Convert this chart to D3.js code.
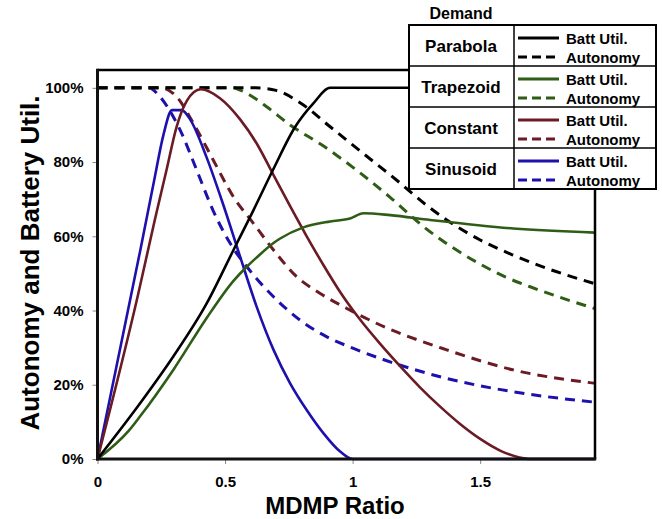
<!DOCTYPE html>
<html>
<head>
<meta charset="utf-8">
<script src="https://cdn.jsdelivr.net/npm/d3@7"></script>
<style>
  html, body { margin: 0; padding: 0; background: #fff; }
  svg { display: block; }
  text { font-family: "Liberation Sans", Arial, sans-serif; font-weight: bold; fill: #000; }
</style>
</head>
<body>
<svg id="chart" width="662" height="519"></svg>
<script>
// ---------- DATA ----------
const demandTypes = ["Parabola", "Trapezoid", "Constant", "Sinusoid"];
const seriesColors = ["#000000", "#2f5d16", "#6b1b24", "#1e10ad"];
const xTicks = [0, 0.5, 1, 1.5];
const xTickLabels = ["0", "0.5", "1", "1.5"];
const yTicks = [0, 0.2, 0.4, 0.6, 0.8, 1.0];
const yTickLabels = ["0%", "20%", "40%", "60%", "80%", "100%"];

// Parabola
const parabolaUtilX = [0, 0.167, 0.297, 0.428, 0.533, 0.611, 0.69, 0.775, 0.846, 0.912, 1.95];
const parabolaUtilY = [0, 0.15, 0.276, 0.419, 0.563, 0.67, 0.782, 0.895, 0.958, 1.0, 1.0];
const parabolaAutoX = [0, 0.62, 0.7, 0.794, 0.912, 1.042, 1.173, 1.291, 1.369, 1.5, 1.63, 1.76, 1.95];
const parabolaAutoY = [1, 1, 0.993, 0.96, 0.895, 0.823, 0.751, 0.683, 0.644, 0.59, 0.549, 0.514, 0.472];
// Trapezoid
const trapezoidUtilX = [0, 0.121, 0.167, 0.297, 0.428, 0.533, 0.585, 0.624, 0.69, 0.716, 0.807, 0.912, 0.99, 1.042, 1.147, 1.304, 1.63, 1.95];
const trapezoidUtilY = [0, 0.075, 0.115, 0.24, 0.38, 0.48, 0.518, 0.543, 0.582, 0.594, 0.624, 0.64, 0.648, 0.662, 0.657, 0.644, 0.621, 0.61];
const trapezoidAutoX = [0, 0.53, 0.559, 0.598, 0.663, 0.755, 0.886, 1.016, 1.147, 1.278, 1.5, 1.6, 1.696, 1.95];
const trapezoidAutoY = [1, 1, 0.994, 0.98, 0.949, 0.9, 0.843, 0.778, 0.705, 0.626, 0.525, 0.49, 0.464, 0.405];
// Constant
const constantUtilX = [0, 0.158, 0.225, 0.271, 0.31, 0.35, 0.405, 0.48, 0.559, 0.624, 0.69, 0.755, 0.82, 0.886, 0.951, 1.023, 1.108, 1.186, 1.264, 1.343, 1.42, 1.5, 1.58, 1.65, 1.7, 1.95];
const constantUtilY = [0, 0.44, 0.645, 0.78, 0.895, 0.965, 0.996, 0.972, 0.915, 0.85, 0.765, 0.681, 0.6, 0.522, 0.45, 0.381, 0.31, 0.25, 0.193, 0.141, 0.095, 0.054, 0.022, 0.005, 0, 0];
const constantAutoX = [0, 0.25, 0.31, 0.376, 0.454, 0.533, 0.611, 0.69, 0.781, 0.873, 0.99, 1.108, 1.369, 1.63, 1.95];
const constantAutoY = [1, 1, 0.976, 0.904, 0.805, 0.706, 0.635, 0.563, 0.491, 0.446, 0.401, 0.361, 0.294, 0.24, 0.204];
// Sinusoid
const sinusoidUtilX = [0, 0.167, 0.222, 0.258, 0.292, 0.33, 0.363, 0.428, 0.493, 0.559, 0.624, 0.69, 0.755, 0.82, 0.886, 0.951, 1.0, 1.95];
const sinusoidUtilY = [0, 0.56, 0.75, 0.872, 0.94, 0.94, 0.915, 0.812, 0.685, 0.545, 0.41, 0.294, 0.204, 0.132, 0.069, 0.02, 0, 0];
const sinusoidAutoX = [0, 0.2, 0.245, 0.297, 0.324, 0.389, 0.454, 0.52, 0.598, 0.69, 0.794, 0.899, 1.003, 1.12, 1.369, 1.63, 1.95];
const sinusoidAutoY = [1, 1, 0.976, 0.922, 0.886, 0.778, 0.668, 0.581, 0.507, 0.437, 0.374, 0.329, 0.298, 0.268, 0.217, 0.181, 0.153];

// ---------- BUILD ----------
const zip = (xs, ys) => xs.map((x, i) => ({ x, y: ys[i] }));
const series = [
  { name: "Sinusoid", color: seriesColors[3], util: zip(sinusoidUtilX, sinusoidUtilY), auto: zip(sinusoidAutoX, sinusoidAutoY) },
  { name: "Constant", color: seriesColors[2], util: zip(constantUtilX, constantUtilY), auto: zip(constantAutoX, constantAutoY) },
  { name: "Trapezoid", color: seriesColors[1], util: zip(trapezoidUtilX, trapezoidUtilY), auto: zip(trapezoidAutoX, trapezoidAutoY) },
  { name: "Parabola", color: seriesColors[0], util: zip(parabolaUtilX, parabolaUtilY), auto: zip(parabolaAutoX, parabolaAutoY) }
];

const svg = d3.select("#chart");
const pLeft = 97.5, pRight = 595, pTop = 70, pBottom = 459;
const x = d3.scaleLinear().domain([0, 1.95]).range([pLeft, pRight]);
const y = d3.scaleLinear().domain([0, 1.048]).range([pBottom, pTop]);

svg.append("clipPath").attr("id", "plotclip")
  .append("rect").attr("x", pLeft).attr("y", pTop - 2).attr("width", pRight - pLeft).attr("height", pBottom - pTop + 4);

// axes
const yAxis = d3.axisLeft(y).tickValues(yTicks).tickFormat((d, i) => yTickLabels[i]).tickSize(5).tickPadding(9);
const gy = svg.append("g").attr("transform", `translate(${pLeft},0)`).call(yAxis);
gy.select(".domain").remove();
gy.selectAll(".tick line").attr("stroke", "#888").attr("stroke-width", 1);
gy.selectAll(".tick text").style("font-size", "15px").style("font-family", "Liberation Sans, Arial, sans-serif").style("font-weight", "bold").attr("fill", "#000");

const xAxis = d3.axisBottom(x).tickValues(xTicks).tickFormat((d, i) => xTickLabels[i]).tickSize(5).tickPadding(12);
const gx = svg.append("g").attr("transform", `translate(0,${pBottom})`).call(xAxis);
gx.select(".domain").remove();
gx.selectAll(".tick line").attr("stroke", "#888").attr("stroke-width", 1);
gx.selectAll(".tick text").style("font-size", "15px").style("font-family", "Liberation Sans, Arial, sans-serif").style("font-weight", "bold").attr("fill", "#000");

// lines
const line = d3.line().x(d => x(d.x)).y(d => y(d.y)).curve(d3.curveMonotoneX);
const plot = svg.append("g").attr("clip-path", "url(#plotclip)");
series.forEach(s => {
  plot.append("path").datum(s.auto).attr("d", line)
    .attr("fill", "none").attr("stroke", s.color).attr("stroke-width", 3).attr("stroke-dasharray", "10,7");
});
series.forEach(s => {
  plot.append("path").datum(s.util).attr("d", line)
    .attr("fill", "none").attr("stroke", s.color).attr("stroke-width", 2.6);
});

// frame
svg.append("line").attr("x1", pLeft).attr("x2", pRight).attr("y1", pTop).attr("y2", pTop).attr("stroke", "#000").attr("stroke-width", 2.5);
svg.append("line").attr("x1", pRight).attr("x2", pRight).attr("y1", pTop).attr("y2", pBottom).attr("stroke", "#000").attr("stroke-width", 2.5);
svg.append("line").attr("x1", pLeft).attr("x2", pLeft).attr("y1", pTop - 1.25).attr("y2", pBottom + 1.5).attr("stroke", "#111").attr("stroke-width", 3);
svg.append("line").attr("x1", pLeft - 1.5).attr("x2", pRight + 1.25).attr("y1", pBottom).attr("y2", pBottom).attr("stroke", "#111").attr("stroke-width", 3);

// axis titles
svg.append("text").attr("x", 335).attr("y", 514).attr("text-anchor", "middle").style("font-size", "24px").text("MDMP Ratio");
svg.append("text").attr("transform", "translate(39,263) rotate(-90)").attr("text-anchor", "middle").style("font-size", "26px").text("Autonomy and Battery Util.");

// legend
const lg = svg.append("g");
const lx0 = 409, lx1 = 656, lxm = 514, ly0 = 25, rowH = 41;
lg.append("text").attr("x", 461).attr("y", 19).attr("text-anchor", "middle").style("font-size", "16px").text("Demand");
lg.append("rect").attr("x", lx0).attr("y", ly0).attr("width", lx1 - lx0).attr("height", rowH * 4)
  .attr("fill", "#fff").attr("stroke", "#000").attr("stroke-width", 2);
lg.append("line").attr("x1", lxm).attr("x2", lxm).attr("y1", ly0).attr("y2", ly0 + rowH * 4).attr("stroke", "#000").attr("stroke-width", 1.5);
demandTypes.forEach((name, i) => {
  const ry = ly0 + i * rowH;
  if (i > 0) lg.append("line").attr("x1", lx0).attr("x2", lx1).attr("y1", ry).attr("y2", ry).attr("stroke", "#000").attr("stroke-width", 1.5);
  const col = seriesColors[i];
  lg.append("text").attr("x", 461).attr("y", ry + rowH / 2 + 6).attr("text-anchor", "middle").style("font-size", "17px").text(name);
  lg.append("line").attr("x1", 518).attr("x2", 559).attr("y1", ry + 13).attr("y2", ry + 13).attr("stroke", col).attr("stroke-width", 3);
  lg.append("line").attr("x1", 518).attr("x2", 559).attr("y1", ry + 32).attr("y2", ry + 32).attr("stroke", col).attr("stroke-width", 3).attr("stroke-dasharray", "9,5");
  lg.append("text").attr("x", 566).attr("y", ry + 19).style("font-size", "15px").text("Batt Util.");
  lg.append("text").attr("x", 566).attr("y", ry + 38).style("font-size", "15px").text("Autonomy");
});
</script>
</body>
</html>
